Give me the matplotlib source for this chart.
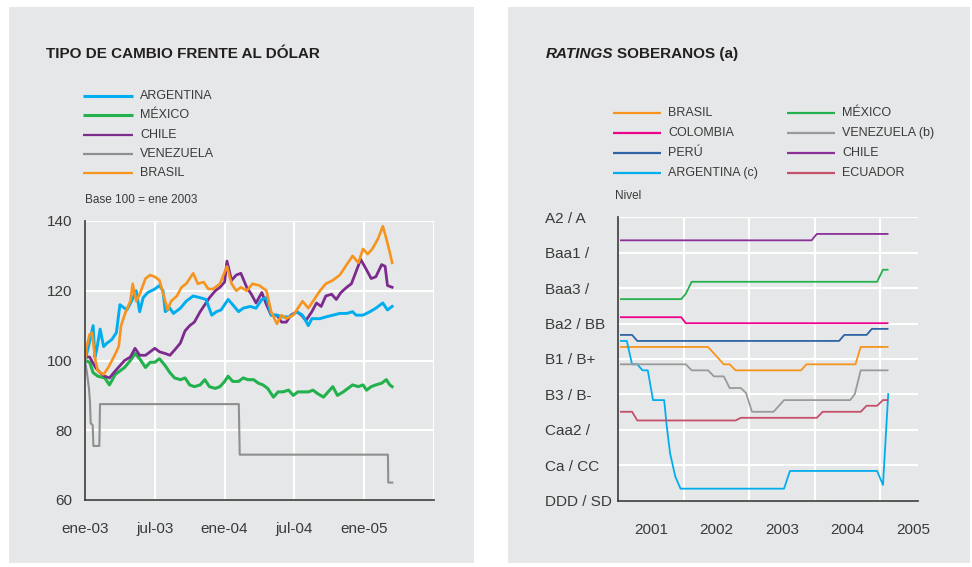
import matplotlib.pyplot as plt
from matplotlib.patches import Rectangle

plt.rcParams['font.family'] = ['Liberation Sans', 'DejaVu Sans']

# ---------------- datos: tipo de cambio (meses desde ene-03, base 100) -------------
arg_m = [0, 0.3, 0.7, 0.85, 1.0, 1.3, 1.6, 1.9, 2.3, 2.7, 3.0, 3.6, 4.0, 4.4, 4.7, 5.0, 5.4, 6.0,
         6.4, 6.7, 6.9, 7.3, 7.6, 8.2, 8.7, 9.3, 9.9, 10.4, 10.9, 11.3, 11.7, 12.3, 12.7, 13.2,
         13.6, 14.2, 14.7, 15.2, 15.6, 16.0, 16.5, 17.0, 17.6, 18.2, 18.7, 19.2, 19.5, 20.2,
         20.7, 21.3, 21.9, 22.5, 23.0, 23.3, 23.9, 24.5, 25.0, 25.6, 26.0, 26.4]
arg_v = [100, 104, 110, 101, 103, 109, 104, 105, 106, 108, 116, 114.5, 117, 120, 114, 118, 119.5,
         120.5, 121.5, 120, 114, 115, 113.5, 115, 117, 118.5, 118, 117.5, 113, 114, 114.5, 117.5,
         116, 114, 115, 115.5, 115, 117.5, 118, 113, 113, 112.5, 112.5, 114, 113, 110, 112, 112,
         112.5, 113, 113.5, 113.5, 114, 113, 113, 114, 115, 116.5, 114.5, 115.5]

bra_m = [0, 0.15, 0.4, 0.6, 0.9, 1.1, 1.6, 2.0, 2.4, 2.9, 3.1, 3.5, 3.9, 4.1, 4.4, 4.7, 5.2, 5.6,
         6.0, 6.4, 6.9, 7.1, 7.4, 7.9, 8.3, 8.7, 9.3, 9.7, 10.2, 10.6, 11.0, 11.6, 12.2, 12.6,
         13.0, 13.4, 13.9, 14.4, 15.0, 15.6, 16.0, 16.5, 16.9, 17.3, 17.9, 18.3, 18.7, 19.2,
         19.6, 20.2, 20.7, 21.3, 21.9, 22.5, 23.0, 23.5, 23.9, 24.3, 24.7, 25.2, 25.6, 25.9,
         26.2, 26.4]
bra_v = [100, 104, 107.5, 108, 100, 97, 96, 98, 100.5, 104, 110, 114, 117, 122, 117, 119, 123.5,
         124.5, 124, 123, 117, 114.5, 117, 118.5, 121, 122, 125, 122, 122.5, 120.5, 120.5, 122,
         127, 122, 120, 121, 120, 122, 121.5, 120, 114, 110.5, 113, 112, 113, 115, 117, 115, 117,
         120, 122, 123, 124.5, 127.5, 130, 128, 132, 130.5, 132, 135, 138.5, 135, 131, 128]

chi_m = [0, 0.4, 0.9, 1.3, 1.7, 2.1, 2.6, 3.0, 3.4, 3.9, 4.3, 4.7, 5.2, 5.6, 6.0, 6.4, 6.9, 7.3,
         7.7, 8.2, 8.6, 9.0, 9.4, 9.9, 10.3, 10.7, 11.2, 11.6, 12.0, 12.2, 12.6, 13.0, 13.4,
         13.9, 14.3, 14.7, 15.2, 15.6, 16.0, 16.5, 16.9, 17.3, 17.7, 18.2, 18.6, 19.0, 19.5,
         19.9, 20.3, 20.7, 21.2, 21.6, 22.0, 22.5, 22.9, 23.3, 23.7, 24.2, 24.6, 25.0, 25.5,
         25.8, 26.0, 26.4]
chi_v = [101, 101, 98, 96.5, 95.5, 95, 97, 98.5, 100, 101, 103.5, 101.5, 101.5, 102.5, 103.5,
         102.5, 102, 101.5, 103, 105, 108.5, 110, 111, 114, 116, 118, 120, 121, 122.5, 128.5, 123,
         124.5, 125, 121, 119, 116.5, 119.5, 116, 113, 113, 111, 111, 113, 114, 113, 111.5, 114,
         116.5, 115.5, 118.5, 119, 117.5, 119.5, 121, 122, 125.5, 129, 126, 123.5, 124, 127.5,
         127, 121.5, 121]

mex_m = [0, 0.4, 0.7, 1.1, 1.7, 2.1, 2.6, 3.0, 3.4, 3.9, 4.3, 4.7, 5.2, 5.6, 6.0, 6.4, 6.9, 7.3,
         7.7, 8.2, 8.6, 9.0, 9.4, 9.9, 10.3, 10.7, 11.2, 11.6, 12.0, 12.3, 12.7, 13.2, 13.6,
         14.0, 14.5, 14.9, 15.3, 15.7, 16.2, 16.6, 17.0, 17.5, 17.9, 18.3, 18.7, 19.2, 19.6,
         20.0, 20.5, 20.9, 21.3, 21.7, 22.2, 22.6, 23.0, 23.5, 23.9, 24.2, 24.6, 25.0, 25.5,
         25.9, 26.2, 26.4]
mex_v = [100, 99.5, 96.5, 95.5, 95, 93, 96, 97, 98, 100, 102, 100.5, 98, 99.5, 99.5, 100.5, 98.5,
         96.5, 95, 94.5, 95, 93, 92.5, 93, 94.5, 92.5, 92, 92.5, 94, 95.5, 94, 94, 95, 94.5, 94.5,
         93.5, 93, 92, 89.5, 91, 91, 91.5, 90, 91, 91, 91, 91.5, 90.5, 89.5, 91, 92.5, 90, 91, 92,
         93, 92.5, 93, 91.5, 92.5, 93, 93.5, 94.5, 93, 92.5]

ven_m = [0, 0.15, 0.34, 0.43, 0.49, 0.66, 0.72, 1.23, 1.29, 13.22, 13.3, 26.04, 26.07, 26.41]
ven_v = [100, 97, 92, 88, 82, 81.5, 75.5, 75.5, 87.5, 87.5, 73, 73, 65, 65]

fx_names = ['ARGENTINA', 'MÉXICO', 'CHILE', 'VENEZUELA', 'BRASIL']
fx_colors = ['#00aeef', '#23b14d', '#7d2a8e', '#8f8f8f', '#f7941d']
fx_ticks = [0, 6, 12, 18, 24, 30]
fx_ticklabels = ['ene-03', 'jul-03', 'ene-04', 'jul-04', 'ene-05', '']

# ---------------- datos: ratings soberanos (año, nivel) ----------------
rt_labels = ['DDD / SD', 'Ca / CC', 'Caa2 /', 'B3 / B-', 'B1 / B+', 'Ba2 / BB', 'Baa3 /', 'Baa1 /', 'A2 / A']
rt_levels = [0, 2, 4, 6, 8, 10, 12, 14, 16]

bra_x = [2001.04, 2002.37, 2002.61, 2002.70, 2002.79, 2003.79, 2003.87, 2004.62, 2004.70, 2005.11]
bra_y = [8.68, 8.68, 7.70, 7.70, 7.36, 7.36, 7.70, 7.70, 8.68, 8.68]
col_x = [2001.04, 2001.96, 2002.03, 2005.11]
col_y = [10.36, 10.36, 10.02, 10.02]
per_x = [2001.04, 2001.21, 2001.29, 2004.37, 2004.45, 2004.79, 2004.87, 2005.11]
per_y = [9.36, 9.36, 9.02, 9.02, 9.36, 9.36, 9.70, 9.70]
arr_x = [2001.04, 2001.13, 2001.21, 2001.29, 2001.37, 2001.45, 2001.53, 2001.70, 2001.74, 2001.79,
         2001.87, 2001.95, 2003.53, 2003.62, 2004.95, 2005.04, 2005.12]
arr_y = [9.02, 9.02, 7.70, 7.70, 7.36, 7.36, 5.68, 5.68, 4.19, 2.68, 1.36, 0.68, 0.68, 1.68, 1.68,
         0.89, 6.02]
mxr_x = [2001.04, 2001.96, 2002.03, 2002.12, 2004.95, 2005.04, 2005.11]
mxr_y = [11.38, 11.38, 11.68, 12.36, 12.36, 13.04, 13.04]
vzr_x = [2001.04, 2002.03, 2002.12, 2002.37, 2002.46, 2002.61, 2002.70, 2002.87, 2002.95, 2003.04,
         2003.37, 2003.53, 2004.54, 2004.61, 2004.70, 2005.11]
vzr_y = [7.70, 7.70, 7.36, 7.36, 7.02, 7.02, 6.36, 6.36, 6.08, 5.02, 5.02, 5.68, 5.68, 6.02, 7.36, 7.36]
chr_x = [2001.04, 2003.95, 2004.03, 2005.11]
chr_y = [14.70, 14.70, 15.06, 15.06]
ecu_x = [2001.04, 2001.21, 2001.29, 2002.79, 2002.87, 2004.03, 2004.12, 2004.70, 2004.79, 2004.95,
         2005.04, 2005.11]
ecu_y = [5.02, 5.02, 4.53, 4.53, 4.68, 4.68, 5.02, 5.02, 5.36, 5.36, 5.68, 5.68]

rt_names = ['BRASIL', 'COLOMBIA', 'PERÚ', 'ARGENTINA (c)', 'MÉXICO', 'VENEZUELA (b)', 'CHILE', 'ECUADOR']
rt_colors = ['#f7941d', '#ec008c', '#2e64a6', '#00aeef', '#23b14d', '#9a9a9a', '#8a2f98', '#c4506c']

BG = '#e6e7e8'
TXT = '#3a3a3a'
W, H = 972, 567

fig = plt.figure(figsize=(W / 100, H / 100), dpi=100)

# capa de fondo en pixeles
bg = fig.add_axes([0, 0, 1, 1], zorder=0)
bg.set_xlim(0, W)
bg.set_ylim(H, 0)
bg.axis('off')
bg.add_patch(Rectangle((9, 7), 465, 556, color=BG, lw=0))
bg.add_patch(Rectangle((508, 7), 462, 556, color=BG, lw=0))

bg.text(46, 54, 'TIPO DE CAMBIO FRENTE AL DÓLAR', fontsize=11, fontweight='bold',
        color='#231f20', va='center')
t1 = bg.text(546, 54, 'RATINGS', fontsize=11, fontweight='bold', style='italic',
             color='#231f20', va='center')

# leyenda izquierda
for i, name in enumerate(fx_names):
    yy = 95.7 + i * 19.4
    bg.plot([83, 133], [yy, yy], color=fx_colors[i], lw=2.2 if i < 2 else 1.6,
            solid_capstyle='butt')
    bg.text(140, yy, name, fontsize=9, color=TXT, va='center')
bg.text(85, 200, 'Base 100 = ene 2003', fontsize=8.5, color=TXT, va='center')

# leyenda derecha
for i, name in enumerate(rt_names):
    col, row = divmod(i, 4)
    yy = 113.3 + row * 20
    x0 = 613 if col == 0 else 787
    bg.plot([x0, x0 + 48], [yy, yy], color=rt_colors[i], lw=1.6, solid_capstyle='butt')
    bg.text(x0 + 55, yy, name, fontsize=9, color=TXT, va='center')
bg.text(615, 196, 'Nivel', fontsize=8.5, color=TXT, va='center')

# ---------------- panel izquierdo ----------------
ax1 = fig.add_axes([85 / W, 1 - 500 / H, 349 / W, 279 / H], zorder=1)
ax1.set_facecolor('none')
ax1.plot(ven_m, ven_v, color=fx_colors[3], lw=1.5)
ax1.plot(mex_m, mex_v, color=fx_colors[1], lw=2.2)
ax1.plot(chi_m, chi_v, color=fx_colors[2], lw=2.0)
ax1.plot(arg_m, arg_v, color=fx_colors[0], lw=2.1)
ax1.plot(bra_m, bra_v, color=fx_colors[4], lw=1.9)
ax1.set_xlim(0, 30)
ax1.set_ylim(60, 140)
ax1.set_xticks(fx_ticks)
ax1.set_xticklabels(fx_ticklabels)
ax1.set_yticks([60, 80, 100, 120, 140])
ax1.grid(True, color='white', lw=1.5)
ax1.set_axisbelow(True)
ax1.tick_params(length=0, labelsize=11, colors=TXT)
ax1.tick_params(axis='x', pad=16)
ax1.tick_params(axis='y', pad=9)
for s in ['top', 'right']:
    ax1.spines[s].set_visible(False)
for s in ['left', 'bottom']:
    ax1.spines[s].set_color('#3c3c3c')
    ax1.spines[s].set_linewidth(1.2)

# ---------------- panel derecho ----------------
ax2 = fig.add_axes([618.3 / W, 1 - 500.7 / H, 299.4 / W, 283.4 / H], zorder=1)
ax2.set_facecolor('none')
series = [(bra_x, bra_y), (col_x, col_y), (per_x, per_y), (arr_x, arr_y),
          (mxr_x, mxr_y), (vzr_x, vzr_y), (chr_x, chr_y), (ecu_x, ecu_y)]
for (xs, ys), c in zip(series, rt_colors):
    ax2.plot(xs, ys, color=c, lw=1.3)
ax2.set_xlim(2001, 2005.57)
ax2.set_ylim(0, 16)
ax2.set_yticks(rt_levels)
ax2.set_yticklabels(rt_labels, ha='left')
ax2.set_xticks([2002, 2003, 2004, 2005])
ax2.set_xticklabels([])
ax2.set_xticks([2001.5, 2002.5, 2003.5, 2004.5, 2005.5], minor=True)
ax2.set_xticklabels(['2001', '2002', '2003', '2004', '2005'], minor=True)
ax2.grid(True, which='major', color='white', lw=1.5)
ax2.set_axisbelow(True)
ax2.tick_params(which='both', length=0, labelsize=11, colors=TXT)
ax2.tick_params(axis='x', which='both', pad=16)
ax2.tick_params(axis='y', pad=53)
for s in ['top', 'right']:
    ax2.spines[s].set_visible(False)
for s in ['left', 'bottom']:
    ax2.spines[s].set_color('#3c3c3c')
    ax2.spines[s].set_linewidth(1.2)
for lab in ax2.get_xticklabels(minor=True):
    lab.set_clip_on(False)

# segunda parte del titulo derecho
fig.canvas.draw()
bb = t1.get_window_extent()
bg.text(bb.x1 + 3, 54, 'SOBERANOS (a)', fontsize=11, fontweight='bold',
        color='#231f20', va='center')

fig.savefig('out.png', dpi=100)
